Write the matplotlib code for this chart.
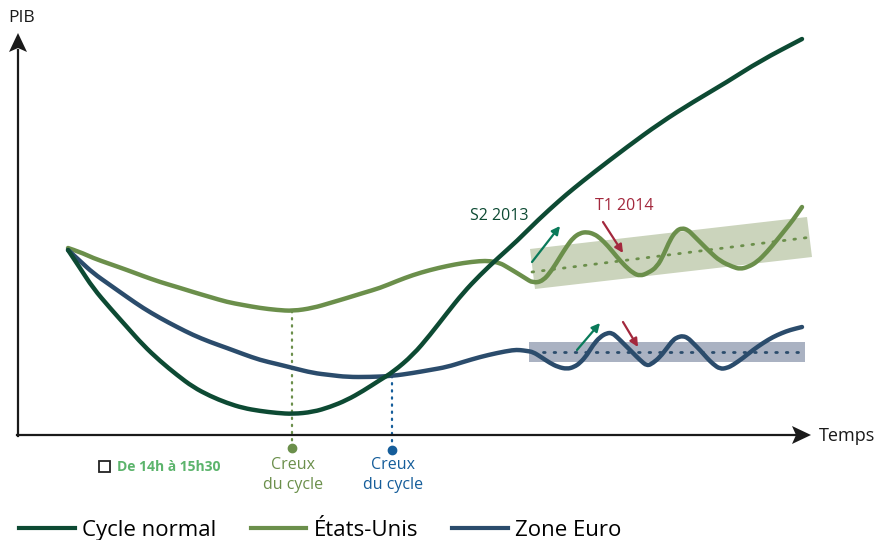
import matplotlib
matplotlib.use("Agg")
import matplotlib.pyplot as plt
from matplotlib.lines import Line2D
from matplotlib.patches import Polygon, Rectangle, PathPatch
from matplotlib.path import Path

plt.rcParams["font.family"] = ["Open Sans", "DejaVu Sans"]

# schematic curves (x right, y down)
cycle_x = [68, 80, 93, 110, 127, 143, 160, 177, 193, 210, 227, 243, 260, 277, 293,
           313, 330, 347, 363, 380, 393, 413, 430, 447, 463, 480, 498, 517, 538, 560,
           573, 593, 627, 660, 693, 727, 760, 802]
cycle_y = [250, 268, 288, 308, 327, 345, 361, 375, 387, 396, 403, 408, 411, 413, 414,
           412, 407, 400, 391, 380, 372, 355, 335, 313, 293, 275, 258, 241, 220, 200,
           189, 173, 147, 123, 102, 82, 61, 39]

us_x = [68, 80, 93, 110, 127, 143, 160, 177, 193, 210, 227, 243, 260, 277, 293,
        313, 330, 347, 363, 380, 397, 413, 430, 447, 463, 480, 490, 500, 507, 517,
        525, 533, 543, 552, 560, 567, 573, 580, 587, 594, 600, 608, 617, 625, 633,
        640, 648, 657, 664, 670, 676, 682, 688, 693, 702, 710, 720, 733, 740, 748,
        757, 767, 777, 785, 793, 802]
us_y = [248, 252, 258, 264, 270, 276, 282, 287, 292, 297, 302, 305, 308, 310, 311,
        308, 303, 298, 293, 288, 281, 275, 270, 266, 263, 261, 261, 263, 267, 273,
        278, 283, 281, 270, 257, 246, 238, 233, 232, 234, 238, 246, 257, 266, 273,
        276, 273, 267, 254, 240, 231, 228, 230, 235, 244, 252, 261, 267, 269, 267,
        262, 252, 240, 230, 220, 207]

euro_x = [68, 80, 93, 110, 127, 143, 160, 177, 193, 210, 227, 243, 260, 277, 293,
          313, 330, 347, 370, 392, 413, 430, 447, 463, 480, 497, 513, 520, 527, 533,
          541, 550, 558, 567, 574, 580, 587, 593, 600, 607, 612, 617, 625, 633, 640,
          647, 653, 660, 667, 673, 678, 683, 688, 693, 700, 707, 713, 720, 727, 733,
          743, 753, 763, 773, 782, 790, 802]
euro_y = [250, 261, 273, 285, 297, 308, 318, 327, 335, 342, 348, 354, 360, 364, 368,
          373, 375, 377, 377, 376, 373, 370, 367, 362, 357, 353, 350, 350, 351, 352,
          357, 363, 367, 369, 367, 363, 355, 345, 337, 333, 333, 337, 345, 353, 360,
          366, 363, 357, 348, 340, 337, 336, 338, 343, 350, 358, 364, 369, 368, 365,
          358, 350, 343, 337, 333, 330, 327]

series_names = ["Cycle normal", "États-Unis", "Zone Euro"]
series_colors = ["#0d4a33", "#6b8f4b", "#2b4c6c"]

# shaded ranges and their trend lines
us_band = [(530, 249), (807, 217), (812, 257), (535, 289)]
us_trend_x = [532, 812]
us_trend_y = [272, 237]
euro_band_x = [529, 805]
euro_band_y = [342, 362]
euro_trend_x = [543, 805]
euro_trend_y = [352, 352]

# troughs
trough_x = [292, 392]
trough_top = [311, 376]
trough_bottom = [448, 450]
trough_colors = ["#6b8f4b", "#155d9a"]

# small arrows (start, end)
up_arrows = [((532, 262), (560, 226)), ((577, 350), (600, 323))]
down_arrows = [((603, 222), (623, 253)), ((623, 322), (638, 347))]


def smooth_path(xs, ys):
    # quadratic bezier through the midpoints, the read points act as controls
    verts = [(xs[0], ys[0])]
    codes = [Path.MOVETO]
    for i in range(1, len(xs) - 1):
        mid = ((xs[i] + xs[i + 1]) / 2, (ys[i] + ys[i + 1]) / 2)
        verts += [(xs[i], ys[i]), mid]
        codes += [Path.CURVE3, Path.CURVE3]
    verts.append((xs[-1], ys[-1]))
    codes.append(Path.LINETO)
    return Path(verts, codes)


def main():
    fig = plt.figure(figsize=(8.79, 5.40), dpi=100)
    ax = fig.add_axes([0, 0, 1, 1])
    ax.set_xlim(0, 879)
    ax.set_ylim(540, 0)
    ax.axis("off")

    # bands
    ax.add_patch(Polygon(us_band, closed=True, facecolor="#cbd4bc", edgecolor="none", zorder=1))
    ax.add_patch(Rectangle((euro_band_x[0], euro_band_y[0]), euro_band_x[1] - euro_band_x[0],
                           euro_band_y[1] - euro_band_y[0], facecolor="#aab2c2",
                           edgecolor="none", zorder=1))
    ax.plot(us_trend_x, us_trend_y, color="#6b8f4b", lw=2, ls=(0, (0.6, 3.2)),
            dash_capstyle="round", zorder=2)
    ax.plot(euro_trend_x, euro_trend_y, color="#2b4c6c", lw=2, ls=(0, (0.6, 3.2)),
            dash_capstyle="round", zorder=2)

    # axes arrows
    ax.plot([18, 18], [436, 50], color="#1a1a1a", lw=1.6, zorder=3)
    ax.plot([17, 795], [435, 435], color="#1a1a1a", lw=1.6, zorder=3)
    ax.add_patch(Polygon([(9, 52), (18, 33), (27, 52), (18, 48)], closed=True,
                         facecolor="#1a1a1a", edgecolor="none", zorder=3))
    ax.add_patch(Polygon([(792, 426), (811, 435), (792, 444), (796, 435)], closed=True,
                         facecolor="#1a1a1a", edgecolor="none", zorder=3))
    ax.text(8, 18, "PIB", fontsize=12.5, color="#1a1a1a", va="center", ha="left")
    ax.text(819, 436, "Temps", fontsize=13, color="#1a1a1a", va="center", ha="left")

    # trough markers
    for x, y0, y1, c in zip(trough_x, trough_top, trough_bottom, trough_colors):
        ax.plot([x, x], [y0, y1], color=c, lw=1.6, ls=(0, (0.6, 2.6)),
                dash_capstyle="round", zorder=2)
        ax.plot([x], [y1], "o", color=c, ms=6, zorder=3)
        ax.text(x + 1, 475, "Creux\ndu cycle", fontsize=11.5, color=c, ha="center",
                va="center", linespacing=1.35)

    # curves
    handles = []
    for xs, ys, name, c, z in zip([cycle_x, us_x, euro_x], [cycle_y, us_y, euro_y],
                                  series_names, series_colors, [5, 4, 4]):
        ax.add_patch(PathPatch(smooth_path(xs, ys), facecolor="none", edgecolor=c, lw=3.2,
                               capstyle="round", joinstyle="round", zorder=z))
        handles.append(Line2D([], [], color=c, lw=3, label=name))

    # small arrows
    for (s, e) in up_arrows:
        ax.annotate("", xy=e, xytext=s,
                    arrowprops=dict(arrowstyle="-|>", color="#0a7a5a", lw=1.6,
                                    mutation_scale=12, shrinkA=0, shrinkB=0), zorder=6)
    for (s, e) in down_arrows:
        ax.annotate("", xy=e, xytext=s,
                    arrowprops=dict(arrowstyle="-|>", color="#a3283d", lw=1.6,
                                    mutation_scale=12, shrinkA=0, shrinkB=0), zorder=6)
    ax.text(499, 216, "S2 2013", fontsize=11.5, color="#0d4a33", ha="center", va="center")
    ax.text(624, 206, "T1 2014", fontsize=11.5, color="#a3283d", ha="center", va="center")

    # note
    ax.add_patch(Rectangle((99, 461), 11, 11, facecolor="white", edgecolor="#222222",
                           lw=1.3, zorder=3))
    ax.text(117, 467, "De 14h à 15h30", fontsize=10, fontweight="bold", color="#5cb46c",
            ha="left", va="center")

    ax.legend(handles=handles, loc="lower left", bbox_to_anchor=(0.004, -0.03), ncol=3,
              frameon=False, fontsize=16, handlelength=2.5, handletextpad=0.33,
              columnspacing=1.55, borderaxespad=0.3)

    fig.savefig("out.png", dpi=100)
    plt.close(fig)


if __name__ == "__main__":
    main()
